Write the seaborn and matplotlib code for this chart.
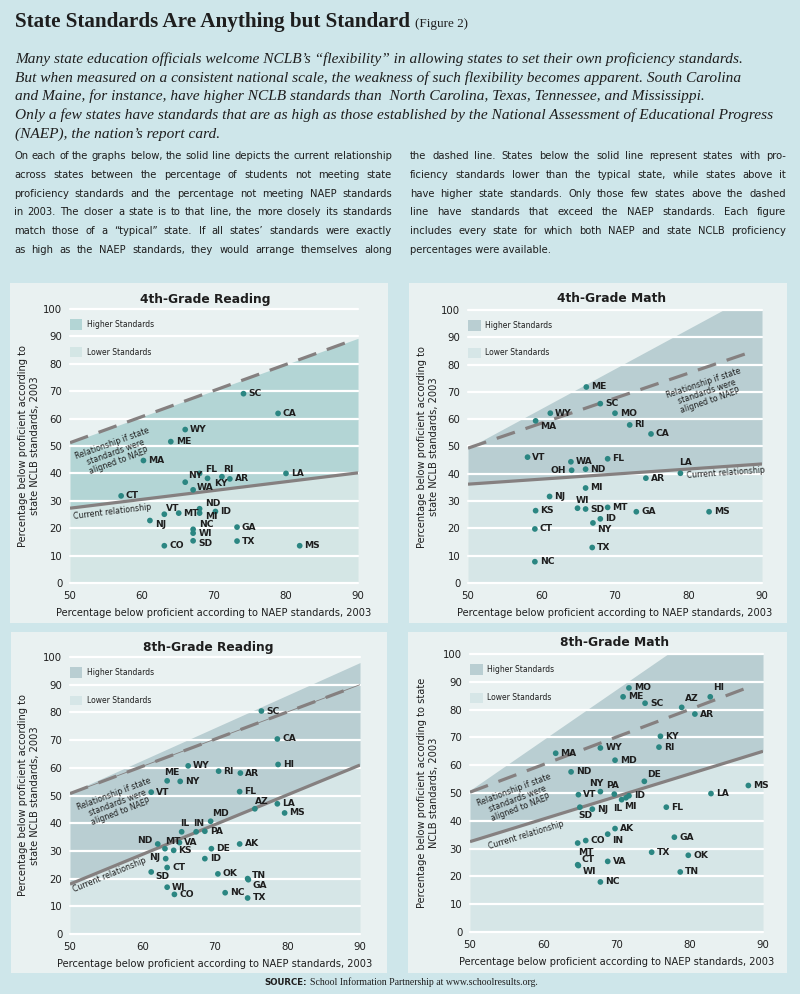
import numpy as np
import matplotlib
matplotlib.use("Agg")
import matplotlib.pyplot as plt
import seaborn as sns
from matplotlib.patches import Rectangle
from matplotlib import font_manager

# ---------------- data ----------------
r4_states = ["MA", "ME", "WY", "SC", "CA", "FL", "RI", "AR", "NY", "KY", "WA", "LA", "CT",
             "VT", "MT", "ND", "MI", "ID", "NJ", "NC", "WI", "SD", "GA", "TX", "CO", "MS"]
r4_naep = [60.2, 64.0, 66.0, 74.1, 78.9, 68.0, 71.1, 72.2, 66.0, 69.1, 67.1, 80.0, 57.1,
           63.1, 65.1, 68.0, 68.0, 70.2, 61.1, 67.1, 67.1, 67.1, 73.2, 73.2, 63.1, 81.9]
r4_nclb = [44.7, 51.6, 56.0, 69.1, 61.9, 40.0, 38.8, 38.0, 36.8, 38.2, 34.0, 40.0, 31.8,
           25.1, 25.5, 27.1, 25.5, 26.1, 22.8, 19.6, 18.2, 15.4, 20.4, 15.3, 13.6, 13.6]

m4_states = ["ME", "SC", "MO", "WY", "MA", "RI", "CA", "VT", "WA", "FL", "OH", "ND", "LA", "AR",
             "MI", "NJ", "KS", "WI", "SD", "MT", "GA", "MS", "ID", "NY", "CT", "TX", "NC"]
m4_naep = [66.1, 68.0, 70.0, 61.2, 59.2, 72.0, 74.9, 58.1, 64.0, 69.0, 64.1, 66.0, 78.9, 74.2,
           66.0, 61.1, 59.2, 64.9, 66.0, 69.0, 72.9, 82.8, 68.0, 67.0, 59.1, 66.9, 59.1]
m4_nclb = [71.8, 65.7, 62.2, 62.2, 59.4, 57.9, 54.6, 46.1, 44.4, 45.5, 41.3, 41.7, 40.2, 38.4,
           34.8, 31.7, 26.5, 27.4, 27.1, 27.7, 26.1, 26.1, 23.5, 22.0, 19.8, 13.0, 7.8]

r8_states = ["SC", "CA", "HI", "WY", "RI", "AR", "ME", "NY", "VT", "FL", "AZ", "LA", "MS", "MD",
             "IL", "IN", "PA", "ND", "MT", "VA", "KS", "DE", "AK", "NJ", "ID", "CT", "SD", "OK",
             "TN", "GA", "WI", "CO", "NC", "TX"]
r8_naep = [76.4, 78.6, 78.7, 66.3, 70.5, 73.5, 63.4, 65.2, 61.2, 73.4, 75.5, 78.6, 79.6, 69.4,
           65.4, 67.4, 68.6, 62.1, 63.1, 65.1, 64.3, 69.5, 73.4, 63.2, 68.6, 63.4, 61.2, 70.4,
           74.5, 74.6, 63.4, 64.4, 71.4, 74.5]
r8_nclb = [80.5, 70.4, 61.2, 60.7, 58.8, 58.1, 55.3, 55.1, 51.2, 51.4, 45.2, 47.0, 43.7, 40.7,
           36.9, 36.9, 37.1, 32.5, 30.8, 33.0, 30.2, 30.8, 32.5, 27.2, 27.2, 24.0, 22.4, 21.7,
           20.0, 19.6, 16.9, 14.3, 14.9, 13.0]

m8_states = ["MO", "ME", "SC", "AZ", "HI", "AR", "KY", "RI", "MA", "WY", "MD", "ND", "DE", "MS",
             "NY", "PA", "VT", "ID", "IL", "MI", "LA", "SD", "NJ", "FL", "AK", "IN", "GA", "CO",
             "MT", "TX", "OK", "VA", "CT", "WI", "TN", "NC"]
m8_naep = [71.7, 70.9, 73.9, 78.9, 82.8, 80.7, 76.0, 75.8, 61.7, 67.8, 69.8, 63.8, 73.8, 88.0,
           67.8, 69.7, 64.8, 71.7, 70.7, 71.3, 82.9, 65.0, 66.7, 76.8, 69.8, 68.8, 77.9, 65.8,
           64.7, 74.8, 79.8, 68.8, 64.7, 64.8, 78.7, 67.8]
m8_nclb = [87.8, 84.6, 82.3, 80.8, 84.6, 78.4, 70.4, 66.5, 64.3, 66.2, 61.8, 57.6, 54.2, 52.7,
           50.5, 49.6, 49.4, 49.0, 47.6, 48.3, 49.8, 44.9, 44.2, 44.9, 37.2, 35.2, 34.1, 32.9,
           32.0, 28.7, 27.6, 25.4, 24.2, 23.9, 21.6, 18.0]

# line values at NAEP = 50 and NAEP = 90
r4_current, r4_aligned, r4_upper = [27.3, 40.2], [51.2, 89.3], [51.2, 89.3]
m4_current, m4_aligned, m4_upper = [36.2, 43.6], [49.4, 86.0], [49.4, 107.7]
r8_current, r8_aligned, r8_upper = [18.0, 61.0], [50.7, 90.0], [51.0, 98.0]
m8_current, m8_aligned, m8_upper = [32.5, 65.0], [50.3, 90.0], [51.0, 123.6]

x_ticks = [50, 60, 70, 80, 90]
y_ticks = list(range(0, 101, 10))

# ---------------- style ----------------
OUTER = "#cee6ea"
PANEL = "#e9f1f1"
TEAL_HI, TEAL_LO = "#b3d5d5", "#d4e6e5"
GRAY_HI, GRAY_LO = "#b9ced2", "#d6e6e7"
DOT = "#2b8682"
LINE_C = "#858080"
INK = "#1e1e1e"

sns.set_style("white")
plt.rcParams["font.family"] = ["DejaVu Sans"]

names = {f.name for f in font_manager.fontManager.ttflist}
NARROW = "Liberation Sans Narrow" if "Liberation Sans Narrow" in names else "DejaVu Sans"
SERIF = "Liberation Serif" if "Liberation Serif" in names else "DejaVu Serif"

W, H = 800, 994
fig = plt.figure(figsize=(8, 9.94), dpi=100, facecolor=OUTER)
renderer = fig.canvas.get_renderer()


def fx(px):
    return px / W


def fy(py):
    return 1 - py / H


def text_width(s, **kw):
    t = fig.text(0, 0, s, **kw)
    w = t.get_window_extent(renderer).width
    t.remove()
    return w


def fit_size(s, target, **kw):
    return 10 * target / text_width(s, fontsize=10, **kw)


def justify(line, x0, x1, y, **kw):
    words = line.split()
    widths = [text_width(w, **kw) for w in words]
    gap = (x1 - x0 - sum(widths)) / max(len(words) - 1, 1)
    pos = x0
    for w, wd in zip(words, widths):
        fig.text(fx(pos), fy(y), w, va="baseline", ha="left", **kw)
        pos += wd + gap


# ---------------- header ----------------
title = "State Standards Are Anything but Standard"
ts = fit_size(title, 398, family=SERIF, weight="bold")
fig.text(fx(15), fy(27), title, family=SERIF, weight="bold", fontsize=ts, color=INK, va="baseline")
tw = text_width(title, family=SERIF, weight="bold", fontsize=ts)
fig.text(fx(15 + tw + 5), fy(27), "(Figure 2)", family=SERIF, fontsize=ts * 0.62, color=INK,
         va="baseline")

intro = [
    "Many state education officials welcome NCLB\u2019s \u201cflexibility\u201d in allowing states to set their own proficiency standards.",
    "But when measured on a consistent national scale, the weakness of such flexibility becomes apparent. South Carolina",
    "and Maine, for instance, have higher NCLB standards than  North Carolina, Texas, Tennessee, and Mississippi.",
    "Only a few states have standards that are as high as those established by the National Assessment of Educational Progress",
    "(NAEP), the nation\u2019s report card.",
]
isz = fit_size(intro[3], 758, family=SERIF, style="italic")
for i, line in enumerate(intro):
    fig.text(fx(15), fy(63 + 18.6 * i), line, family=SERIF, style="italic", fontsize=isz,
             color=INK, va="baseline")

left_col = [
    "On each of the graphs below, the solid line depicts the current relationship",
    "across states between the percentage of students not meeting state",
    "proficiency standards and the percentage not meeting NAEP standards",
    "in 2003. The closer a state is to that line, the more closely its standards",
    "match those of a \u201ctypical\u201d state. If all states\u2019 standards were exactly",
    "as high as the NAEP standards, they would arrange themselves along",
]
right_col = [
    "the dashed line. States below the solid line represent states with pro-",
    "ficiency standards lower than the typical state, while states above it",
    "have higher state standards. Only those few states above the dashed",
    "line have standards that exceed the NAEP standards. Each figure",
    "includes every state for which both NAEP and state NCLB proficiency",
    "percentages were available.",
]
bsz = fit_size(left_col[0], 374, family=NARROW)
for i, line in enumerate(left_col):
    justify(line, 14, 392, 159 + 18.8 * i, family=NARROW, fontsize=bsz, color=INK)
for i, line in enumerate(right_col):
    if i == len(right_col) - 1:
        fig.text(fx(410), fy(159 + 18.8 * i), line, family=NARROW, fontsize=bsz, color=INK,
                 va="baseline")
    else:
        justify(line, 410, 786, 159 + 18.8 * i, family=NARROW, fontsize=bsz, color=INK)

# ---------------- panels ----------------
panel_boxes = [(10, 283, 388, 623), (409, 283, 787, 623), (11, 632, 387, 973), (408, 632, 787, 973)]
for x0, y0, x1, y1 in panel_boxes:
    fig.patches.append(Rectangle((fx(x0), fy(y1)), (x1 - x0) / W, (y1 - y0) / H,
                                 transform=fig.transFigure, facecolor=PANEL, edgecolor="none",
                                 zorder=-5))

REL = "Relationship if state\nstandards were\naligned to NAEP"


def draw_panel(box, title, title_xy, states, xs, ys, current, aligned, upper, dash_end,
               hi, lo, offsets, ylabel, ylab_x, rel_xy, cur_xy, thin=False):
    l, t, r, b = box
    ax = fig.add_axes([fx(l), fy(b), (r - l) / W, (b - t) / H])
    ax.set_zorder(2)
    ax.set_xlim(50, 90)
    ax.set_ylim(0, 100)
    ax.set_facecolor("none")
    for s in ax.spines.values():
        s.set_visible(False)

    ratio = ((b - t) / 100) / ((r - l) / 40)
    grid = np.linspace(50, 90, 201)
    cur = np.interp(grid, [50, 90], current)
    upp = np.minimum(np.interp(grid, [50, 90], upper), 100)
    ax.fill_between(grid, 0, cur, color=lo, lw=0, zorder=1)
    ax.fill_between(grid, cur, upp, color=hi, lw=0, zorder=1)
    for v in y_ticks:
        ax.axhline(v, color="white", lw=1.6, zorder=2, clip_on=False)

    ax.plot([50, 90], current, color=LINE_C, lw=2.3, solid_capstyle="butt", zorder=3)
    yend = aligned[0] + (aligned[1] - aligned[0]) * (dash_end - 50) / 40
    if thin:
        ax.plot([50, 90], aligned, color=LINE_C, lw=0.6, zorder=3)
    ax.plot([50, dash_end], [aligned[0], yend], color=LINE_C, lw=2.3, dashes=(6, 3.5),
            zorder=3)

    sns.scatterplot(x=xs, y=ys, ax=ax, color=DOT, s=17, edgecolor="none", zorder=5,
                    legend=False)
    for st, x, y in zip(states, xs, ys):
        dx, dy, ha = offsets.get(st, (3.5, 0, "left"))
        ax.annotate(st, (x, y), xytext=(dx, dy), textcoords="offset points", ha=ha,
                    va="center", fontsize=6.6, weight="bold", color=INK, zorder=6)

    # legend swatches
    ax.add_patch(Rectangle((0, 0.923), 0.043, 0.041, transform=ax.transAxes, facecolor=hi,
                           edgecolor="none", zorder=4))
    ax.add_patch(Rectangle((0, 0.825), 0.043, 0.036, transform=ax.transAxes, facecolor=lo,
                           edgecolor="none", zorder=4))
    ax.text(0.058, 0.943, "Higher Standards", transform=ax.transAxes, fontsize=5.5,
            va="center", color=INK)
    ax.text(0.058, 0.843, "Lower Standards", transform=ax.transAxes, fontsize=5.5,
            va="center", color=INK)

    rel_rot = np.degrees(np.arctan((aligned[1] - aligned[0]) / 40 * ratio))
    cur_rot = np.degrees(np.arctan((current[1] - current[0]) / 40 * ratio))
    ax.text(rel_xy[0], rel_xy[1], REL, rotation=rel_rot, rotation_mode="anchor", ha="center",
            va="center", multialignment="center", fontsize=5.6, color=INK, linespacing=1.05,
            zorder=6)
    ax.text(cur_xy[0], cur_xy[1], "Current relationship", rotation=cur_rot,
            rotation_mode="anchor", ha="left", va="center", fontsize=5.6, color=INK, zorder=6)

    ax.set_xticks(x_ticks)
    ax.set_yticks(y_ticks)
    ax.tick_params(length=0, labelsize=7.3, colors=INK)
    ax.tick_params(axis="y", pad=5.5)
    ax.tick_params(axis="x", pad=6)
    ax.set_xlabel("Percentage below proficient according to NAEP standards, 2003",
                  fontsize=7.1, color=INK, labelpad=5)
    fig.text(fx(ylab_x), fy((t + b) / 2), ylabel, rotation=90, ha="center", va="center",
             multialignment="center", fontsize=7.1, color=INK, linespacing=1.25)
    fig.text(fx(title_xy[0]), fy(title_xy[1]), title, ha="center", va="center", fontsize=8.8,
             weight="bold", color=INK)
    return ax


YL_A = "Percentage below proficient according to\nstate NCLB standards, 2003"
YL_B = "Percentage below proficient according to state\nNCLB standards, 2003"

off_r4 = {"NY": (2, 4.5, "left"), "WA": (2.5, 2, "left"), "KY": (5, -3.5, "left"),
          "FL": (4, 3, "left"), "RI": (1, 5, "left"), "ND": (4, 4, "left"),
          "MI": (4, -2.5, "left"), "VT": (1, 4, "left"), "NJ": (4, -2.5, "left"),
          "NC": (4, 3.5, "left"), "WI": (4, -0.5, "left"), "SD": (4, -1.8, "left")}
off_m4 = {"MA": (3, -4, "left"), "LA": (-1, 7.5, "left"), "OH": (-4, 0, "right"),
          "WI": (-1, 5.5, "left"), "NY": (3, -4.5, "left")}
off_r8 = {"ME": (-2, 6, "left"), "AZ": (0, 5.5, "left"), "MD": (1, 5.5, "left"),
          "IL": (-1, 6, "left"), "IN": (-2, 6, "left"), "ND": (-4, 2.5, "right"),
          "MT": (0, 5.5, "left"), "NJ": (-4, 1, "right"), "SD": (3, -3, "left"),
          "GA": (3, -4.5, "left"), "TN": (3, 2, "left")}
off_m8 = {"AZ": (2, 6.5, "left"), "HI": (2, 6.5, "left"), "DE": (2, 5, "left"),
          "NY": (2, 6, "right"), "PA": (-1, 6, "center"), "IL": (-3, -6, "center"),
          "MI": (3, -6, "center"), "SD": (-1, -6, "left"), "IN": (3, -4.5, "left"),
          "MT": (0, -6.5, "left"), "CT": (3, 3.5, "left"), "WI": (3, -4, "left")}

draw_panel((70, 309, 358, 583), "4th-Grade Reading", (205, 299), r4_states, r4_naep, r4_nclb,
           r4_current, r4_aligned, r4_upper, 88.5, TEAL_HI, TEAL_LO, off_r4, YL_A, 29,
           (56.3, 47.6), (50.5, 24.3))
draw_panel((468, 310, 762, 583), "4th-Grade Math", (612, 298), m4_states, m4_naep, m4_nclb,
           m4_current, m4_aligned, m4_upper, 88.0, GRAY_HI, GRAY_LO, off_m4, YL_A, 428,
           (82.5, 70.0), (79.8, 39.5))
draw_panel((70, 657, 360, 934), "8th-Grade Reading", (208, 648), r8_states, r8_naep, r8_nclb,
           r8_current, r8_aligned, r8_upper, 88.0, GRAY_HI, GRAY_LO, off_r8, YL_A, 29,
           (56.5, 47.3), (50.5, 15.8), thin=True)
draw_panel((470, 654, 763, 932), "8th-Grade Math", (615, 643), m8_states, m8_naep, m8_nclb,
           m8_current, m8_aligned, m8_upper, 88.0, GRAY_HI, GRAY_LO, off_m8, YL_B, 428,
           (56.5, 47.8), (52.6, 30.8))

# ---------------- source ----------------
src_a = "SOURCE:"
fig.text(fx(264), fy(985), src_a, fontsize=6.2, weight="bold", color=INK, va="baseline")
aw = text_width(src_a, fontsize=6.2, weight="bold")
fig.text(fx(264 + aw + 3), fy(985), "School Information Partnership at www.schoolresults.org.",
         family=SERIF, fontsize=7, color=INK, va="baseline")

fig.savefig("out.png", dpi=100, facecolor=OUTER)
